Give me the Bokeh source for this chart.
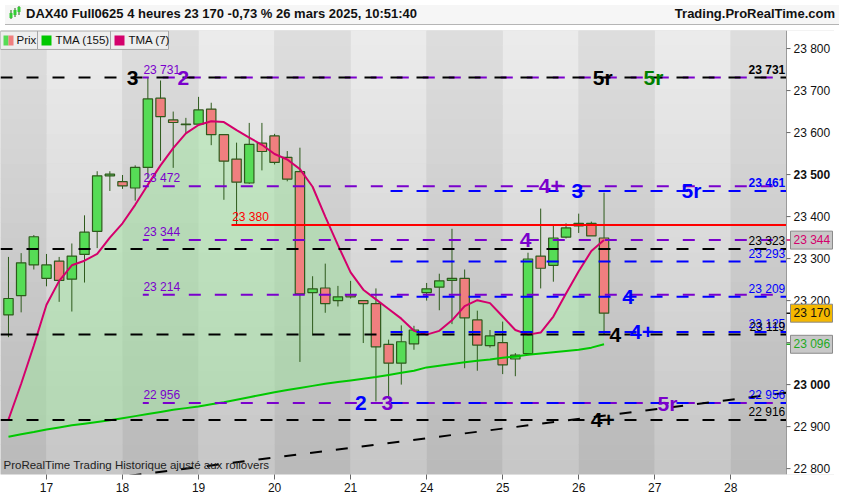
from bokeh.plotting import figure
from bokeh.layouts import column
from bokeh.models import Range1d, FixedTicker, Label, Div
from bokeh.core.properties import value
from bokeh.embed import file_html
from bokeh.resources import INLINE

FONT = "Liberation Sans"

# ---------------- data ----------------
day_ticks = [3, 9, 15, 21, 27, 33, 39, 45, 51, 57]
day_labels = ["17", "18", "19", "20", "21", "24", "25", "26", "27", "28"]
price_ticks = [22800, 22900, 23000, 23100, 23200, 23300, 23400, 23500, 23600, 23700, 23800]
bold_ticks = [23000, 23500]

bar_x = list(range(48))
opens = [23166, 23212, 23285, 23253, 23294, 23251, 23310, 23365, 23497, 23483, 23468, 23517,
         23682, 23630, 23619, 23620, 23656, 23595, 23537, 23480, 23575, 23592, 23541, 23507,
         23219, 23230, 23200, 23214, 23200, 23193, 23096, 23051, 23097, 23219, 23232, 23248,
         23253, 23154, 23093, 23100, 23061, 23074, 23306, 23284, 23351, 23378, 23384, 23349]
highs = [23304, 23313, 23356, 23311, 23304, 23336, 23403, 23508, 23508, 23499, 23522, 23731,
         23724, 23650, 23635, 23685, 23671, 23596, 23576, 23623, 23623, 23597, 23556, 23564,
         23258, 23288, 23235, 23247, 23200, 23229, 23107, 23141, 23140, 23242, 23264, 23371,
         23274, 23176, 23130, 23150, 23075, 23314, 23419, 23382, 23384, 23407, 23388, 23457]
lows = [23113, 23172, 23274, 23234, 23197, 23174, 23243, 23325, 23461, 23466, 23438, 23490,
        23533, 23516, 23598, 23618, 23570, 23440, 23380, 23478, 23510, 23524, 23484, 23054,
        23117, 23171, 23186, 23205, 23099, 22960, 22966, 23000, 23083, 23200, 23177, 23144,
        23039, 23033, 23088, 23025, 23020, 23070, 23229, 23245, 23348, 23361, 23354, 23119]
closes = [23205, 23290, 23352, 23285, 23248, 23306, 23363, 23497, 23501, 23473, 23517, 23680,
          23638, 23624, 23620, 23654, 23595, 23532, 23482, 23572, 23555, 23529, 23489, 23216,
          23228, 23193, 23209, 23209, 23193, 23090, 23051, 23102, 23130, 23228, 23247, 23253,
          23159, 23094, 23116, 23047, 23070, 23299, 23277, 23349, 23373, 23384, 23354, 23170]
tma7 = [22917, 23002, 23093, 23190, 23247, 23284, 23295, 23311, 23350, 23384, 23428, 23476,
        23522, 23563, 23598, 23618, 23627, 23625, 23606, 23588, 23571, 23549, 23536, 23513,
        23471, 23400, 23332, 23267, 23226, 23203, 23180, 23157, 23128, 23119, 23128, 23153,
        23187, 23201, 23194, 23162, 23130, 23119, 23124, 23162, 23217, 23270, 23318, 23344]
tma155 = [22876, 22882, 22887, 22893, 22898, 22903, 22907, 22911, 22915, 22920, 22925, 22930,
          22935, 22940, 22944, 22948, 22953, 22958, 22964, 22970, 22976, 22982, 22987, 22992,
          22997, 23002, 23006, 23010, 23014, 23018, 23023, 23028, 23033, 23041, 23045, 23049,
          23053, 23057, 23060, 23064, 23067, 23071, 23074, 23077, 23080, 23083, 23088, 23096]

black_levels = [23731, 23323, 23119, 22916]
purple_levels = [23731, 23472, 23344, 23214, 22956]
purple_labels = ["23 731", "23 472", "23 344", "23 214", "22 956"]
blue_levels = [23461, 23293, 23209, 23125, 22956]
red_level = 23380
red_label = "23 380"
purple_start = 11
blue_start = 30
red_start = 18
trend_x = [32.1, 61.0]
trend_y = [22869, 22979]

right_texts = ["23 731", "23 461", "23 323", "23 293", "23 209", "23 125", "23 119", "22 956", "22 916"]
right_values = [23731, 23461, 23323, 23293, 23209, 23125, 23119, 22956, 22916]
right_colors = ["black", "blue", "black", "blue", "blue", "blue", "black", "blue", "black"]
right_styles = ["bold", "bold", "normal", "normal", "normal", "normal", "normal", "normal", "normal"]

mark_text = ["3", "2", "5r", "5r", "4+", "3", "5r", "4", "4", "4", "4+", "2", "3", "5r", "4+"]
mark_x = [9.8, 13.8, 46.9, 50.9, 42.8, 44.9, 53.9, 40.8, 48.9, 47.9, 50.0, 27.8, 29.9, 52.0, 46.9]
mark_y = [23731, 23731, 23731, 23731, 23472, 23461, 23461, 23344, 23209, 23119, 23125, 22956, 22956, 22956, 22916]
mark_color = ["black", "#7a00cc", "black", "#008000", "#7a00cc", "blue", "blue", "#7a00cc",
              "blue", "black", "blue", "blue", "#7a00cc", "#7a00cc", "black"]

last_tma7, last_price, last_tma155 = 23344, 23170, 23096

# ---------------- layout constants ----------------
W, H = 834, 464
AXW = 48                      # width of the price-axis strip (px)
FW, FH = W, 445               # frame size (px)
X0, X1 = -0.63, 61.4          # chart area in bar units
UX = (X1 - X0) / (FW - AXW)   # bar units per px
XE = X1 + AXW * UX            # right end incl. price strip
Y0, Y1 = 22786, 23843
UY = (Y1 - Y0) / FH           # price units per px

def px_x(p):
    return X0 + p * UX
def px_y(p):
    return Y1 - p * UY
def fmt(v):
    return "%d %03d" % (v // 1000, v % 1000)

PURPLE = "#7a00cc"
MAGENTA = "#d4006c"
GREEN_LINE = "#00c800"
BORDER = "#2e5a1c"

p = figure(width=W, height=H, x_range=Range1d(X0, XE), y_range=Range1d(Y0, Y1),
           output_backend="svg", toolbar_location=None,
           min_border_left=0, min_border_top=0, min_border_right=0, min_border_bottom=19)
p.yaxis.visible = False
p.grid.visible = False
p.outline_line_color = None
p.background_fill_color = "#d0d0d0"
p.border_fill_color = "white"

# background day bands with vertical gradient
edges = [X0] + day_ticks + [X1]
N = 30
qx0, qx1, qy0, qy1, qc = [], [], [], [], []
for b in range(len(edges) - 1):
    light = (b % 2 == 1)
    top = 236 if light else 222
    bot = 198 if light else 185
    for k in range(N):
        f = (k + 0.5) / N
        c = int(round(bot + (top - bot) * f))
        qx0.append(edges[b]); qx1.append(edges[b + 1])
        qy0.append(Y0 + (Y1 - Y0) * k / N); qy1.append(Y0 + (Y1 - Y0) * (k + 1) / N + 1)
        qc.append("#%02x%02x%02x" % (c, c, c))
p.quad(left=qx0, right=qx1, bottom=qy0, top=qy1, fill_color=qc, line_color=None)

# green area between the two moving averages
p.varea(x=bar_x, y1=tma155, y2=tma7, fill_color="#9be89b", fill_alpha=0.45)

# candles
p.segment(x0=bar_x, y0=lows, x1=bar_x, y1=highs, line_color=BORDER, line_width=1)
tops = [max(o, c) for o, c in zip(opens, closes)]
bots = [min(o, c) for o, c in zip(opens, closes)]
cols = ["#56dc56" if c >= o else "#f07f7f" for o, c in zip(opens, closes)]
p.vbar(x=bar_x, width=0.74, top=tops, bottom=bots, fill_color=cols, line_color=BORDER, line_width=1.2)

# moving averages
p.line(bar_x, tma155, line_color=GREEN_LINE, line_width=2)
p.line(bar_x, tma7, line_color=MAGENTA, line_width=2)

DASH = "12 14"
p.segment(x0=[purple_start - 0.4] * len(purple_levels), y0=purple_levels,
          x1=[X1] * len(purple_levels), y1=purple_levels,
          line_color=PURPLE, line_width=2, line_dash=DASH, line_dash_offset=6)
p.segment(x0=[blue_start - 0.4] * len(blue_levels), y0=blue_levels,
          x1=[X1] * len(blue_levels), y1=blue_levels,
          line_color="blue", line_width=2, line_dash=DASH, line_dash_offset=19)
p.segment(x0=[X0] * len(black_levels), y0=black_levels,
          x1=[X1] * len(black_levels), y1=black_levels,
          line_color="black", line_width=2, line_dash=DASH)
p.segment(x0=[red_start - 0.4], y0=[red_level], x1=[X1], y1=[red_level],
          line_color="#ff0000", line_width=2)
# trend line through its two anchors, extended over the chart area
g = (trend_y[1] - trend_y[0]) / (trend_x[1] - trend_x[0])
p.line([X0, X1], [trend_y[0] + g * (X0 - trend_x[0]), trend_y[0] + g * (X1 - trend_x[0])],
       line_color="black", line_width=2, line_dash=DASH)

# level labels
p.text(x=[purple_start - 0.35] * len(purple_levels), y=purple_levels, text=purple_labels,
       text_color=PURPLE, text_font=value(FONT), text_font_size="12px",
       text_baseline="bottom", text_align="left", y_offset=-1)
p.text(x=[red_start - 0.35], y=[red_level], text=[red_label], text_color="#ff0000",
       text_font=value(FONT), text_font_size="12px", text_baseline="bottom", y_offset=-1)
p.text(x=[X1 - 0.1] * len(right_values), y=right_values, text=right_texts,
       text_color=right_colors, text_font_style=right_styles, text_font=value(FONT),
       text_font_size="12px", text_align="right", text_baseline="bottom", y_offset=-1)
p.text(x=mark_x, y=mark_y, text=mark_text, text_color=mark_color, text_font=value(FONT),
       text_font_size="21px", text_font_style="bold", text_align="center", text_baseline="middle")

# legend bar
lg_x0 = [px_x(0), px_x(37), px_x(110)]
lg_x1 = [px_x(37), px_x(110), px_x(168)]
p.quad(left=lg_x0, right=lg_x1, bottom=[px_y(19)] * 3, top=[px_y(0.5)] * 3,
       fill_color="#eeeeee", line_color="#a8a8a8", line_width=1)
p.quad(left=[px_x(3), px_x(8), px_x(41), px_x(114)], right=[px_x(8), px_x(13), px_x(51), px_x(124)],
       bottom=[px_y(15)] * 4, top=[px_y(5)] * 4,
       fill_color=["#56dc56", "#f07f7f", GREEN_LINE, MAGENTA], line_color=None)
p.text(x=[px_x(16), px_x(55), px_x(128)], y=[px_y(10)] * 3, text=["Prix", "TMA (155)", "TMA (7)"],
       text_color="#111111", text_font=value(FONT), text_font_size="11.5px", text_baseline="middle")

# bottom-left note
p.add_layout(Label(x=X0, y=Y0, x_offset=3, y_offset=4, text="ProRealTime Trading  Historique ajusté aux rollovers",
                   text_font=FONT, text_font_size="11.5px", text_color="#222222"))

# ---------- price axis strip (drawn inside the frame) ----------
p.quad(left=[X1], right=[XE + 1], bottom=[Y0 - 50], top=[Y1 + 50], fill_color="white", line_color=None)
p.segment(x0=[X1], y0=[Y0], x1=[X1], y1=[Y1], line_color="#9a9a9a", line_width=1)
p.segment(x0=[X1] * len(price_ticks), y0=price_ticks, x1=[X1 + 4 * UX] * len(price_ticks), y1=price_ticks,
          line_color="#666666", line_width=1)
p.text(x=[X1 + 7 * UX] * len(price_ticks), y=price_ticks, text=[fmt(t) for t in price_ticks],
       text_font_style=["bold" if t in bold_ticks else "normal" for t in price_ticks],
       text_color="#111111", text_font=value(FONT), text_font_size="12px", text_baseline="middle")

badge_vals = [last_tma7, last_price, last_tma155]
badge_text_col = [MAGENTA, "#111111", "#1faa1f"]
badge_fill = ["#c8c8c8", "#f5b800", "#c8c8c8"]
badge_tick_col = [MAGENTA, "#111111", "#1faa1f"]
p.segment(x0=[X1] * 3, y0=badge_vals, x1=[X1 + 4 * UX] * 3, y1=badge_vals, line_color=badge_tick_col, line_width=1.5)
p.quad(left=[X1 + 4 * UX] * 3, right=[X1 + 46 * UX] * 3,
       bottom=[v - 9 * UY for v in badge_vals], top=[v + 9 * UY for v in badge_vals],
       fill_color=badge_fill, line_color="#8a8a8a", line_width=1)
p.text(x=[X1 + 7 * UX] * 3, y=badge_vals, text=[fmt(v) for v in badge_vals], text_color=badge_text_col,
       text_font=value(FONT), text_font_size="12px", text_baseline="middle")

# x axis
xa = p.xaxis[0]
xa.ticker = FixedTicker(ticks=day_ticks)
xa.major_label_overrides = dict(zip(day_ticks, day_labels))
xa.minor_tick_line_color = None
xa.major_tick_in = 0
xa.major_tick_out = 5
xa.axis_line_color = None
xa.major_tick_line_color = "#666666"
xa.major_label_text_font = FONT
xa.major_label_text_font_size = "12px"
xa.major_label_text_color = "#111111"
xa.major_label_standoff = 3

icon = ('<svg width="14" height="14" style="vertical-align:-2px;margin-right:4px">'
        '<line x1="3" y1="4" x2="3" y2="13" stroke="#2e5a1c"/><rect x="1.5" y="7" width="3" height="5" fill="#3c3"/>'
        '<line x1="7" y1="2" x2="7" y2="11" stroke="#2e5a1c"/><rect x="5.5" y="4" width="3" height="5" fill="#3c3"/>'
        '<line x1="11" y1="0" x2="11" y2="9" stroke="#2e5a1c"/><rect x="9.5" y="1" width="3" height="5" fill="#3c3"/></svg>')
header = Div(text=('<div style="display:flex;justify-content:space-between;align-items:center;'
                   'width:834px;height:20px;box-sizing:border-box;padding:0 4px 0 3px;'
                   'font-family:\'Liberation Sans\',Arial,sans-serif;font-weight:bold;font-size:13px;'
                   'color:#111;background:#f6f6f6;border-bottom:1px solid #b5b5b5;">'
                   '<span>' + icon + 'DAX40 Full0625 4 heures 23 170 -0,73 % 26 mars 2025, 10:51:40</span>'
                   '<span>Trading.ProRealTime.com</span></div>'),
             width=834, height=20)

layout = column(header, p, spacing=0)
open("out.html", "w").write(file_html(layout, INLINE))
